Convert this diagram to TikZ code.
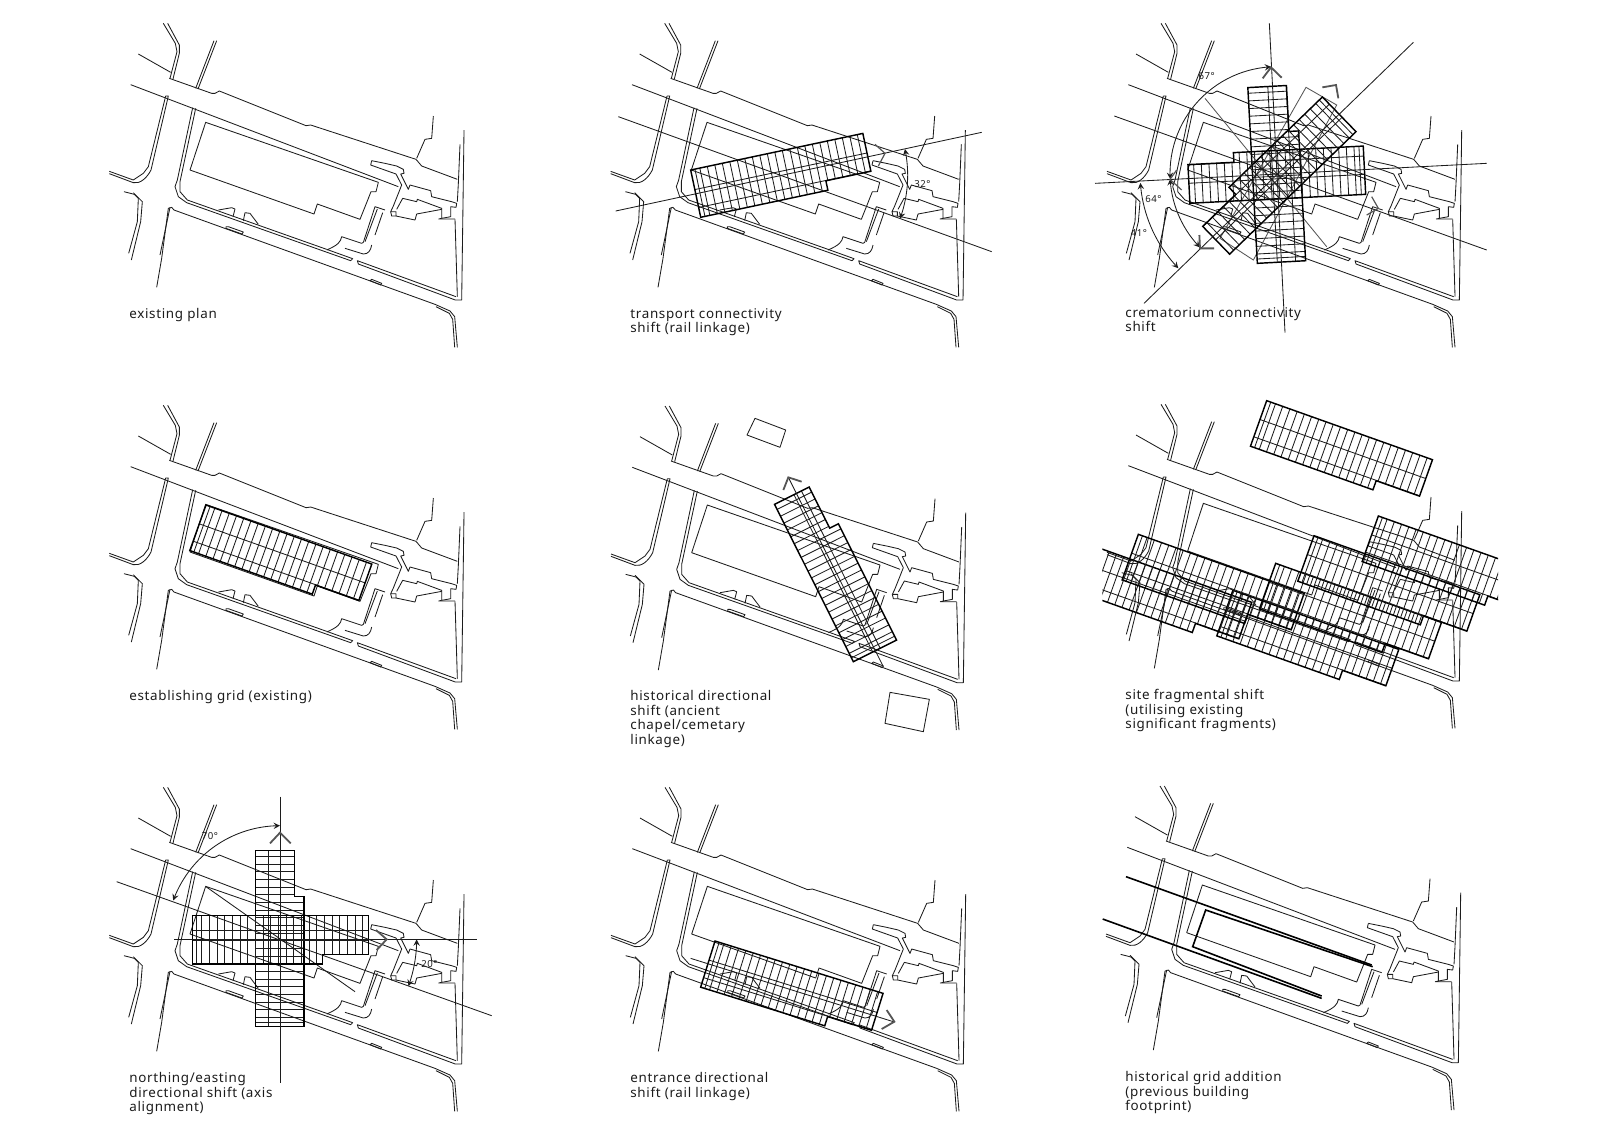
\documentclass[tikz,border=0pt]{standalone}
\usepackage{fontspec}
\setmainfont{Noto Sans}[LetterSpace=5]
\usetikzlibrary{arrows}
\definecolor{inkline}{HTML}{1C1C1C}
\definecolor{chevgrey}{HTML}{555555}
\tikzstyle{siteline} = [line width=0.42pt, draw=inkline, line join=round]
\tikzstyle{gridline} = [line width=0.42pt, draw=inkline]
\tikzstyle{gridedge} = [line width=0.72pt, draw=black, line join=miter]
\tikzstyle{axisline} = [line width=0.42pt, draw=inkline]
\tikzstyle{dimarrow} = [line width=0.42pt, draw=inkline, <->, >=stealth]
\tikzstyle{chevron} = [line width=0.9pt, draw=chevgrey, line join=miter]
\tikzstyle{planlabel} = [anchor=north west, inner sep=0pt, align=left, text=inkline, font=\fontsize{6.7}{7.3}\selectfont]
\tikzstyle{anglelabel} = [inner sep=0pt, text=inkline, font=\fontsize{4.8}{5}\selectfont]
\tikzstyle{oldfoot} = [line width=0.8pt, draw=black]
\tikzset{panel/.style 2 args={shift={(#1,#2)}, x=0.16667pt, y=-0.16667pt}}

% the site, in the units of one panel
\newcommand{\siteplan}[2]{
	\begin{scope}[shift={(#1,#2)}]
		% roads to the north west
		\draw [siteline] (190,40) -- (226,100) -- (231,125) -- (210,205);
		\draw [siteline] (203,40) -- (238,105) -- (238,130) -- (219,207);
		\draw [siteline] (115,132) -- (212,187);
		\draw [siteline] (208,205) -- (335,250) -- (345,250) -- (358,243) -- (618,347) -- (632,345) -- (948,448) -- (965,468) -- (1072,508);
		\draw [siteline] (342,92) -- (287,235);
		\draw [siteline] (350,92) -- (294,237);
		\draw [siteline] (92,224) -- (895,530);
		% west street
		\draw [siteline] (197,258) -- (145,470) -- (130,490) -- (100,510) -- (28,484);
		\draw [siteline] (197,258) -- (205,258) -- (153,480) .. controls (140,505) and (120,522) .. (100,518) -- (28,491);
		\draw [siteline] (72,545) -- (103,553) -- (115,565) -- (112,635) -- (86,730);
		\draw [siteline] (100,548) -- (127,575) -- (122,635) -- (94,750);
		% building
		\draw [siteline] (317,337) -- (835,517) -- (828,545) -- (813,545) -- (780,628) -- (652,582) -- (642,612) -- (270,480) -- cycle;
		% site boundary
		\draw [siteline] (278,293) -- (232,510) -- (225,530) -- (235,560) -- (260,578) -- (752,752) -- (758,746) -- (680,718);
		\draw [siteline] (287,295) -- (240,515) -- (240,545) -- (262,570) -- (680,718);
		\draw [siteline] (1068,860) -- (772,752) -- (775,762) -- (1066,870) -- (1085,870) -- (1092,360);
		\draw [siteline] (1080,403) -- (1075,520) -- (1072,575);
		\draw [siteline] (1065,628) -- (1072,860);
		% south block
		\draw [siteline] (170,832) -- (185,745) -- (205,595) -- (215,592) -- (222,600) -- (1005,883) -- (1050,903) -- (1064,920) -- (1072,1012);
		\draw [siteline] (180,735) -- (210,592);
		\draw [siteline] (1008,890) -- (1048,910) -- (1058,928) -- (1064,1012);
		\draw [siteline] (378,650) -- (385,650) -- (430,666) -- (426,672) -- (378,655) -- cycle;
		\draw [siteline] (815,808) -- (845,820) -- (842,825) -- (810,812) -- cycle;
		% crematorium
		\draw [siteline] (1000,318) -- (995,385) -- (975,388) -- (950,445);
		\draw [siteline] (815,452) -- (855,460) -- (890,468) -- (910,478) -- (912,490) -- (902,492) -- (925,538) -- (930,525) -- (992,542) -- (995,560) -- (1055,575) -- (1070,580) -- (1068,592) -- (1052,590) -- (1052,620) -- (1025,625) -- (1025,595) -- (952,568) -- (950,575) -- (908,565) -- (890,598);
		\draw [siteline] (815,452) -- (812,465) -- (888,492) -- (905,525) -- (880,588) -- (872,605) -- (888,605) -- (888,618) -- (945,630) -- (950,612) -- (1025,598);
		\draw [siteline] (872,605) -- (875,618) -- (888,618);
		\draw [siteline] (1025,625) -- (1016,627) -- (1065,627);
		% courtyard
		\draw [siteline] (355,600) -- (395,593) -- (405,597) -- (399,620);
		\draw [siteline] (430,632) -- (435,608) -- (450,610) -- (475,643);
		\draw [siteline] (680,720) .. controls (715,705) and (722,695) .. (725,680) -- (785,700) -- (790,697) -- (825,590) -- (855,600);
		\draw [siteline] (832,597) -- (795,695);
		\draw [siteline] (848,608) -- (825,675);
		\draw [siteline] (735,715) -- (790,732) .. controls (805,732) and (812,722) .. (815,705);
	\end{scope}
}

% one grid block: corner, turn, and where its two long lines run
\newcommand{\gridblock}[4][60,115]{
	\begin{scope}[shift={(#2,#3)}, rotate=#4]
		\foreach \u in {13,28,51,74,97,120,143,166,189,212,235,258,281,304,327,350,373} {
			\draw [gridline] (\u,0) -- (\u,145);
		}
		\foreach \u in {396,419,442,465,488,511} {
			\draw [gridline] (\u,0) -- (\u,116);
		}
		\foreach \v in {#1} {
			\draw [gridline] (0,\v) -- (528,\v);
		}
		\draw [gridedge] (0,0) -- (528,0) -- (528,116) -- (390,116) -- (390,145) -- (0,145) -- cycle;
	\end{scope}
}

\begin{document}
\begin{tikzpicture}[x=0.5pt, y=-0.5pt]
	\useasboundingbox (0,0) rectangle (1600,1131);
	\fill [white] (0,0) rectangle (1600,1131);

	% existing plan
	\begin{scope}[panel={100}{10}]
		\siteplan{0}{0}
	\end{scope}

	% transport shift
	\begin{scope}[panel={600}{10}]
		\siteplan{4}{0}
		\gridblock{272}{480}{12}
		\draw [axisline] (47,603) -- (1145,367);
		\draw [axisline] (55,320) -- (1175,725);
		\draw [dimarrow] plot [domain=12:-20, samples=20] ({543+380*cos(\x)},{496-380*sin(\x)});
		\draw [chevron, line width=0.6pt] (825,403) -- (855,430) -- (835,468);
		\node (angA) [anglelabel] at (967,523) {32°};
	\end{scope}

	% crematorium shift
	\begin{scope}[panel={1070}{10}]
		\siteplan{83}{0}
		\draw [axisline, draw=chevgrey] (708,232) -- (800,285) -- (550,750) -- (450,685) -- cycle;
		\draw [axisline, draw=chevgrey] (405,265) -- (770,710);
		\gridblock{562}{760}{93.1}
		\gridblock{887}{553}{182.9}
		\gridblock{858}{365}{224.1}
		\draw [axisline] (598,40) -- (645,968);
		\draw [axisline] (75,520) -- (1250,460);
		\draw [axisline] (222,880) -- (1030,97);
		\draw [axisline] (133,318) -- (1250,720);
		\draw [dimarrow] plot [domain=93:183, samples=30] ({620+320*cos(\x)},{490-320*sin(\x)});
		\draw [dimarrow] plot [domain=183:224, samples=20] ({620+320*cos(\x)},{490-320*sin(\x)});
		\draw [dimarrow] plot [domain=184:224, samples=20] ({620+410*cos(\x)},{490-410*sin(\x)});
		\draw [chevron] (578,205) -- (603,172) -- (635,203);
		\draw [chevron] (757,232) -- (798,225) -- (805,265);
		\draw [chevron] (388,675) -- (390,715) -- (432,715);
		\draw [chevron, line width=0.6pt] (320,480) -- (300,508) -- (335,540);
		\draw [chevron, line width=0.6pt] (905,560) -- (925,595) -- (890,615);
		\node (angB) [anglelabel] at (410,198) {67°};
		\node (angC) [anglelabel] at (250,568) {64°};
		\node (angD) [anglelabel] at (207,668) {41°};
	\end{scope}

	% establishing grid
	\begin{scope}[panel={100}{390}]
		\siteplan{0}{6}
		\gridblock{318}{345}{-19.6}
	\end{scope}

	% historical shift
	\begin{scope}[panel={600}{390}]
		\siteplan{5}{8}
		\draw [siteline] (465,85) -- (557,120) -- (540,172) -- (441,135) -- cycle;
		\draw [siteline] (870,907) -- (988,928) -- (970,1025) -- (855,1000) -- cycle;
		\gridblock[65,90]{760}{815}{116.6}
		\draw [axisline] (850,830) -- (565,262);
		\draw [chevron] (550,300) -- (565,262) -- (605,275);
	\end{scope}

	% fragment shift
	\begin{scope}[panel={1070}{380}]
		\siteplan{83}{33}
		\begin{scope}
			\clip (97,0) rectangle (1284,1000);
			\gridblock{489}{631}{-19.6}
			\gridblock{48}{490}{-19.6}
			\gridblock{205}{463}{-19.6}
			\gridblock{617}{550}{-19.6}
			\gridblock{732}{467}{-19.6}
			\gridblock{925}{408}{-19.6}
		\end{scope}
		\gridblock{590}{62}{-19.6}
	\end{scope}

	% northing shift
	\begin{scope}[panel={100}{760}]
		\siteplan{0}{42}
		\draw [axisline] (318,380) -- (765,695);
		\draw [axisline] (50,365) -- (1175,767);
		\gridblock[38,73]{467}{800}{90}
		\gridblock[43,73]{277}{467}{0}
		\draw [axisline] (540,110) -- (540,968);
		\draw [axisline] (222,538) -- (1130,538);
		\draw [dimarrow] plot [domain=90:160, samples=30] ({540+341*cos(\x)},{538-341*sin(\x)});
		\draw [dimarrow] plot [domain=0:-20, samples=20] ({540+410*cos(\x)},{538-410*sin(\x)});
		\draw [chevron] (510,250) -- (540,218) -- (572,250);
		\draw [chevron] (828,510) -- (860,538) -- (830,570);
		\node (angE) [anglelabel] at (330,228) {70°};
		\node (angF) [anglelabel] at (988,612) {20°};
	\end{scope}

	% entrance shift
	\begin{scope}[panel={600}{770}]
		\siteplan{5}{12}
		\gridblock{345}{513}{-17.3}
		\draw [axisline] (272,565) -- (880,755);
		\draw [chevron] (860,720) -- (883,755) -- (845,777);
	\end{scope}

	% historical addition
	\begin{scope}[panel={1090}{770}]
		\siteplan{20}{8}
		\draw [oldfoot] (108,320) -- (845,585);
		\draw [oldfoot] (38,447) -- (695,685);
		\draw [oldfoot] (848,590) -- (347,420) -- (308,530) -- (695,678);
	\end{scope}

	% labels
	\node (labplan) [planlabel] at (129,308) {existing plan};
	\node (labrail) [planlabel] at (630,308) {transport connectivity\\shift (rail linkage)};
	\node (labcrem) [planlabel] at (1125,307) {crematorium connectivity\\shift};
	\node (labgrid) [planlabel] at (129,690) {establishing grid (existing)};
	\node (labhist) [planlabel] at (630,690) {historical directional\\shift (ancient\\chapel/cemetary\\linkage)};
	\node (labfrag) [planlabel] at (1125,689) {site fragmental shift\\(utilising existing\\significant fragments)};
	\node (labnort) [planlabel] at (129,1072) {northing/easting\\directional shift (axis\\alignment)};
	\node (labentr) [planlabel] at (630,1072) {entrance directional\\shift (rail linkage)};
	\node (labaddn) [planlabel] at (1125,1071) {historical grid addition\\(previous building\\footprint)};
\end{tikzpicture}
\end{document}
